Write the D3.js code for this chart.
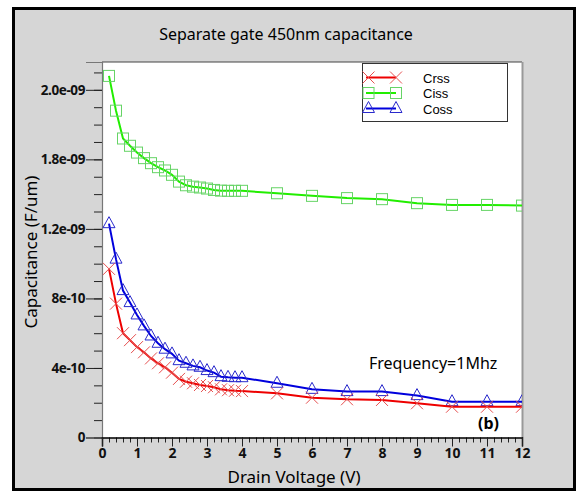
<!DOCTYPE html>
<html>
<head>
<meta charset="utf-8">
<script src="https://cdn.jsdelivr.net/npm/d3@7.9.0/dist/d3.min.js"></script>
<style>
  body { margin: 0; background: #fff; }
  svg text { font-family: "Noto Sans", "Open Sans", sans-serif; }
</style>
</head>
<body>
<svg id="chart" width="580" height="492"></svg>
<script>
// drain voltage points (V)
const voltage = [0.2, 0.4, 0.6, 0.8, 1.0, 1.2, 1.4, 1.6, 1.8, 2.0, 2.2, 2.4, 2.6, 2.8, 3.0,
  3.2, 3.4, 3.6, 3.8, 4.0, 5, 6, 7, 8, 9, 10, 11, 12];

// capacitance values in 1e-10 F/um
const crss = [9.7, 7.7, 6.0, 5.6, 5.2, 4.9, 4.55, 4.27, 4.04, 3.73, 3.37, 3.21, 3.12, 3.02, 2.96,
  2.89, 2.77, 2.72, 2.69, 2.67, 2.54, 2.29, 2.2, 2.16, 1.97, 1.77, 1.77, 1.77];
const ciss = [20.8, 18.8, 17.2, 16.78, 16.39, 16.07, 15.78, 15.55, 15.36, 15.11, 14.72, 14.51,
  14.43, 14.38, 14.32, 14.24, 14.2, 14.19, 14.19, 14.19, 14.05, 13.9, 13.77, 13.71, 13.48,
  13.38, 13.38, 13.34];
const coss = [12.3, 10.26, 8.45, 7.76, 7.05, 6.42, 5.84, 5.42, 5.08, 4.81, 4.42, 4.27, 4.12,
  4.04, 3.85, 3.73, 3.5, 3.46, 3.44, 3.44, 3.12, 2.77, 2.64, 2.64, 2.41, 2.06, 2.06, 2.06];

const seriesNames = ['Crss', 'Ciss', 'Coss'];
const seriesColors = { Crss: '#ee0000', Ciss: '#22ee00', Coss: '#0000dd' };
const markerColors = { Crss: '#e65050', Ciss: '#66d466', Coss: '#2a2acc' };

const yTicks = [0, 4e-10, 8e-10, 1.2e-9, 1.6e-9, 2.0e-9];
const yTickLabels = ['0', '4e-10', '8e-10', '1.2e-09', '1.8e-09', '2.0e-09'];
const xTicks = [0, 1, 2, 3, 4, 5, 6, 7, 8, 9, 10, 11, 12];

const svg = d3.select('#chart');

// outer grey panel
svg.append('rect')
  .attr('x', 13.5).attr('y', 8.5)
  .attr('width', 561).attr('height', 481)
  .attr('fill', '#d6d6d6')
  .attr('stroke', '#000')
  .attr('stroke-width', 3);

const pLeft = 102, pRight = 522, pTop = 62, pBottom = 437.5;

const x = d3.scaleLinear().domain([0, 12]).range([pLeft, pRight]);
const y = d3.scaleLinear().domain([0, 2.16e-9]).range([pBottom, pTop]);

// plot area
svg.append('rect')
  .attr('x', pLeft).attr('y', pTop)
  .attr('width', pRight - pLeft).attr('height', pBottom - pTop)
  .attr('fill', '#fff');
svg.append('line')
  .attr('x1', pLeft).attr('x2', pRight).attr('y1', pTop).attr('y2', pTop)
  .attr('stroke', '#444').attr('stroke-width', 1.2);
svg.append('line')
  .attr('x1', pRight + 0.5).attr('x2', pRight + 0.5).attr('y1', pTop).attr('y2', pBottom)
  .attr('stroke', '#999').attr('stroke-width', 2);

// title
svg.append('text')
  .attr('x', 286).attr('y', 40)
  .attr('text-anchor', 'middle')
  .attr('font-size', 16)
  .text('Separate gate 450nm capacitance');

// y axis: minor ticks then major ticks
const yAxisG = svg.append('g').attr('transform', `translate(${pLeft},0)`);
yAxisG.call(d3.axisLeft(y).tickValues(d3.range(0, 2.15e-9, 1e-10)).tickSize(8).tickFormat(''));
yAxisG.call(g => g.select('.domain').remove());
const yMajor = svg.append('g').attr('transform', `translate(${pLeft},0)`)
  .call(d3.axisLeft(y).tickValues(yTicks).tickSize(16).tickPadding(1)
    .tickFormat((d, i) => yTickLabels[i]));
yMajor.select('.domain').attr('stroke', '#777').attr('stroke-width', 1.2);
yMajor.selectAll('text').attr('font-size', 13.5).attr('font-weight', 'bold').attr('fill', '#111')
  .attr('letter-spacing', -0.4);

// x axis
const xMinor = svg.append('g').attr('transform', `translate(0,${pBottom})`)
  .call(d3.axisBottom(x).tickValues(d3.range(0, 12.01, 0.2)).tickSize(5).tickFormat(''));
xMinor.select('.domain').remove();
const xMajor = svg.append('g').attr('transform', `translate(0,${pBottom})`)
  .call(d3.axisBottom(x).tickValues(xTicks).tickSize(9).tickPadding(2).tickFormat(d3.format('d')));
xMajor.select('.domain').attr('stroke', '#000').attr('stroke-width', 1.5);
xMajor.selectAll('text').attr('font-size', 14).attr('font-weight', 'bold').attr('fill', '#111');
svg.selectAll('g.tick line').attr('stroke', '#222');

// axis titles
svg.append('text')
  .attr('x', 294).attr('y', 483)
  .attr('text-anchor', 'middle')
  .attr('font-size', 17)
  .text('Drain Voltage  (V)');
svg.append('text')
  .attr('transform', 'translate(37,252) rotate(-90)')
  .attr('text-anchor', 'middle')
  .attr('font-size', 17)
  .text('Capacitance  (F/um)');

// clip for curves
svg.append('clipPath').attr('id', 'plotclip')
  .append('rect')
  .attr('x', pLeft).attr('y', pTop)
  .attr('width', pRight - pLeft).attr('height', pBottom - pTop);

const dataByName = { Crss: crss, Ciss: ciss, Coss: coss };

function drawMarker(g, name, cx, cy) {
  const c = markerColors[name];
  if (name === 'Ciss') {
    g.append('rect')
      .attr('x', cx - 5.5).attr('y', cy - 5.5)
      .attr('width', 11).attr('height', 11)
      .attr('fill', 'none').attr('stroke', c).attr('stroke-width', 1);
  } else if (name === 'Crss') {
    g.append('path')
      .attr('d', `M${cx - 6},${cy - 6}L${cx + 6},${cy + 6}M${cx - 6},${cy + 6}L${cx + 6},${cy - 6}`)
      .attr('fill', 'none').attr('stroke', c).attr('stroke-width', 1);
  } else {
    g.append('path')
      .attr('d', `M${cx},${cy - 7}L${cx + 6},${cy + 4}L${cx - 6},${cy + 4}Z`)
      .attr('fill', 'none').attr('stroke', c).attr('stroke-width', 1);
  }
}

const plotG = svg.append('g').attr('clip-path', 'url(#plotclip)');
const line = d3.line().x(d => x(d[0])).y(d => y(d[1] * 1e-10));

['Ciss', 'Coss', 'Crss'].forEach(name => {
  const pts = voltage.map((v, i) => [v, dataByName[name][i]]);
  plotG.append('path')
    .datum(pts)
    .attr('d', line)
    .attr('fill', 'none')
    .attr('stroke', seriesColors[name])
    .attr('stroke-width', 2);
  const mg = plotG.append('g');
  pts.forEach(p => drawMarker(mg, name, x(p[0]), y(p[1] * 1e-10)));
});

// legend
svg.append('rect')
  .attr('x', 362.5).attr('y', 63.5)
  .attr('width', 145).attr('height', 58)
  .attr('fill', '#fff').attr('stroke', '#333').attr('stroke-width', 1);
seriesNames.forEach((name, i) => {
  const ly = 77.5 + i * 15.5;
  const lg = svg.append('g');
  lg.append('line')
    .attr('x1', 366).attr('x2', 396).attr('y1', ly).attr('y2', ly)
    .attr('stroke', seriesColors[name]).attr('stroke-width', 2);
  drawMarker(lg, name, 368.5, ly);
  drawMarker(lg, name, 396, ly);
  lg.append('text')
    .attr('x', 423).attr('y', ly + 5)
    .style('font-family', '"Liberation Sans", Arial, sans-serif')
    .style('font-size', '13px')
    .text(name);
});

// annotations
svg.append('text')
  .attr('x', 369).attr('y', 369)
  .attr('font-size', 16)
  .text('Frequency=1Mhz');
svg.append('text')
  .attr('x', 478).attr('y', 429)
  .attr('font-size', 16)
  .attr('font-weight', 'bold')
  .text('(b)');
</script>
</body>
</html>
